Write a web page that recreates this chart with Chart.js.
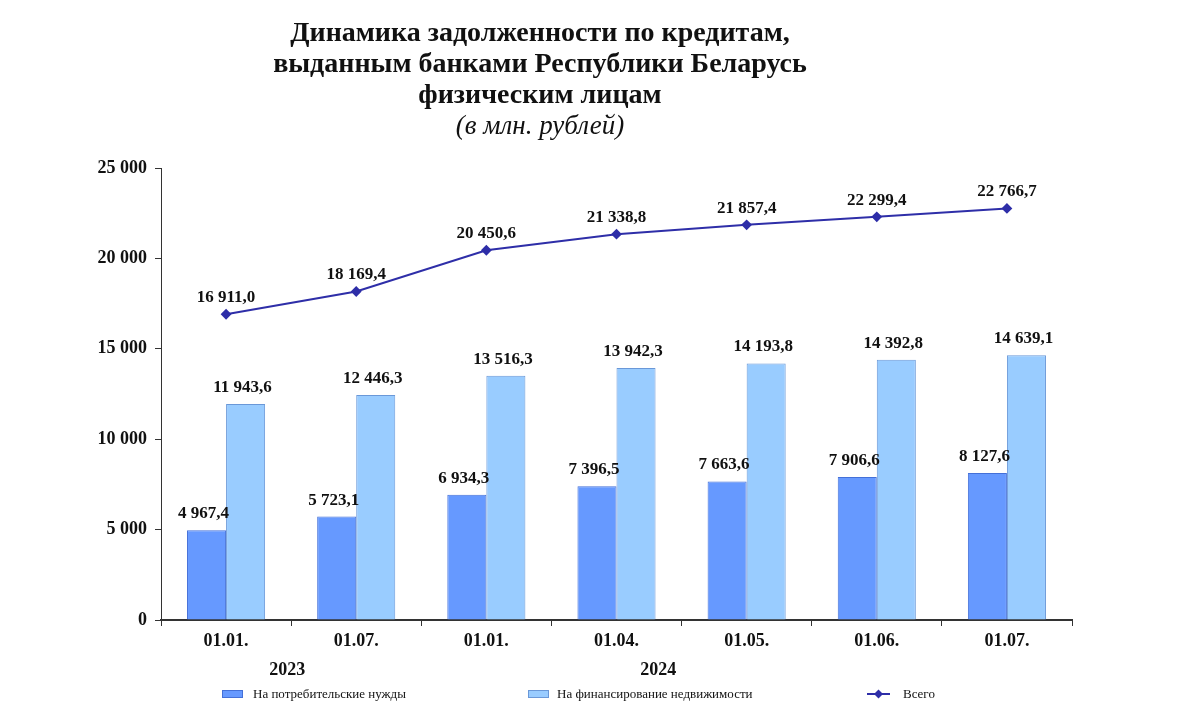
<!DOCTYPE html>
<html>
<head>
<meta charset="utf-8">
<script src="https://cdn.jsdelivr.net/npm/chart.js@4"></script>
<style>
  html, body { margin: 0; padding: 0; background: #fff; }
  .wrap { position: relative; width: 1200px; height: 728px; }
  .title {
    position: absolute; left: 190px; width: 700px; top: 16px;
    text-align: center; font-family: 'Liberation Serif', serif;
    font-weight: bold; font-size: 28px; line-height: 31px; color: #111;
  }
  .sub { font-weight: normal; font-style: italic; font-size: 27px; }
</style>
</head>
<body>
<div class="wrap">
  <canvas id="myChart" width="1200" height="728"></canvas>
  <div class="title">
    Динамика задолженности по кредитам,<br>
    выданным банками Республики Беларусь<br>
    физическим лицам<br>
    <span class="sub">(в млн. рублей)</span>
  </div>
</div>
<script>
const labels = ['01.01.', '01.07.', '01.01.', '01.04.', '01.05.', '01.06.', '01.07.'];
const years = ['2023', '2024'];
const consumer = [4967.4, 5723.1, 6934.3, 7396.5, 7663.6, 7906.6, 8127.6];
const realty = [11943.6, 12446.3, 13516.3, 13942.3, 14193.8, 14392.8, 14639.1];
const total = [16911.0, 18169.4, 20450.6, 21338.8, 21857.4, 22299.4, 22766.7];
const yTicks = [0, 5000, 10000, 15000, 20000, 25000];

const serif = "'Liberation Serif', 'Times New Roman', serif";

function fmt(v, dec) {
  const parts = v.toFixed(dec).split('.');
  const int = parts[0].replace(/\B(?=(\d{3})+(?!\d))/g, ' ');
  return parts.length > 1 ? int + ',' + parts[1] : int;
}

const labelPlugin = {
  id: 'labelPlugin',
  afterDatasetsDraw(chart) {
    const { ctx } = chart;
    ctx.save();
    ctx.fillStyle = '#111';
    ctx.font = 'bold 17px ' + serif;
    ctx.textAlign = 'center';
    ctx.textBaseline = 'alphabetic';
    chart.data.datasets.forEach((dataset, i) => {
      const meta = chart.getDatasetMeta(i);
      meta.data.forEach((el, index) => {
        const dx = dataset.type === 'line' ? 0 : -3;
        ctx.fillText(fmt(dataset.data[index], 1), el.x + dx, el.y - 12);
      });
    });
    ctx.restore();
  },
  afterDraw(chart) {
    const { ctx } = chart;
    const x = chart.scales.x;
    ctx.save();
    ctx.fillStyle = '#111';
    ctx.font = 'bold 18px ' + serif;
    ctx.textAlign = 'center';
    ctx.textBaseline = 'middle';
    const p = i => x.getPixelForTick(i);
    ctx.fillText(years[0], (p(0) + p(1)) / 2 - 4, 670);
    ctx.fillText(years[1], p(3) + 0.32 * (p(4) - p(3)), 670);

    // legend
    ctx.font = '13px ' + serif;
    ctx.textAlign = 'left';
    const ly = 694;
    const ds = chart.data.datasets;
    const items = [[222, 253, 1], [528, 557, 2], [867, 903, 0]];
    items.forEach(([lx, tx, i]) => {
      const d = ds[i];
      if (d.type === 'line') {
        ctx.strokeStyle = d.borderColor;
        ctx.lineWidth = 2;
        ctx.beginPath();
        ctx.moveTo(lx, ly);
        ctx.lineTo(lx + 23, ly);
        ctx.stroke();
        ctx.fillStyle = d.borderColor;
        ctx.beginPath();
        ctx.moveTo(lx + 11.5, ly - 4.5);
        ctx.lineTo(lx + 16, ly);
        ctx.lineTo(lx + 11.5, ly + 4.5);
        ctx.lineTo(lx + 7, ly);
        ctx.closePath();
        ctx.fill();
      } else {
        ctx.fillStyle = d.backgroundColor;
        ctx.fillRect(lx, ly - 4, 21, 8);
        ctx.strokeStyle = d.borderColor;
        ctx.lineWidth = 1;
        ctx.strokeRect(lx + 0.5, ly - 3.5, 20, 7);
      }
      ctx.fillStyle = '#111';
      ctx.fillText(d.label, tx, ly + 1);
    });
    ctx.restore();
  }
};

new Chart(document.getElementById('myChart'), {
  data: {
    labels: labels,
    datasets: [
      {
        type: 'line',
        label: 'Всего',
        data: total,
        borderColor: '#2e2ea8',
        backgroundColor: '#2e2ea8',
        borderWidth: 2,
        pointStyle: 'rectRot',
        pointRadius: 4,
        pointBackgroundColor: '#2e2ea8',
        order: 0
      },
      {
        type: 'bar',
        label: 'На потребительские нужды',
        data: consumer,
        backgroundColor: '#6699ff',
        borderColor: '#4470d8',
        borderWidth: 1,
        categoryPercentage: 0.6,
        barPercentage: 1,
        order: 1
      },
      {
        type: 'bar',
        label: 'На финансирование недвижимости',
        data: realty,
        backgroundColor: '#99ccff',
        borderColor: '#6a98d8',
        borderWidth: 1,
        categoryPercentage: 0.6,
        barPercentage: 1,
        order: 1
      }
    ]
  },
  options: {
    responsive: false,
    animation: false,
    layout: { padding: { left: 0, right: 128, top: 168, bottom: 76 } },
    plugins: {
      legend: { display: false },
      tooltip: { enabled: false }
    },
    scales: {
      x: {
        offset: true,
        grid: { display: true, drawOnChartArea: false, offset: true, tickLength: 6, color: '#333' },
        border: { display: true, color: '#333', width: 2 },
        ticks: { color: '#111', font: { family: serif, size: 18, weight: 'bold' }, padding: 5 },
        afterFit(scale) { scale.height = 32; }
      },
      y: {
        min: 0,
        max: 25000,
        afterBuildTicks(scale) { scale.ticks = yTicks.map(v => ({ value: v })); },
        grid: { display: true, drawOnChartArea: false, tickLength: 6, color: '#333' },
        border: { display: true, color: '#333', width: 1 },
        ticks: {
          color: '#111',
          font: { family: serif, size: 18, weight: 'bold' },
          padding: 8,
          callback: v => fmt(v, 0)
        },
        afterFit(scale) { scale.width = 161; }
      }
    }
  },
  plugins: [labelPlugin]
});
</script>
</body>
</html>
